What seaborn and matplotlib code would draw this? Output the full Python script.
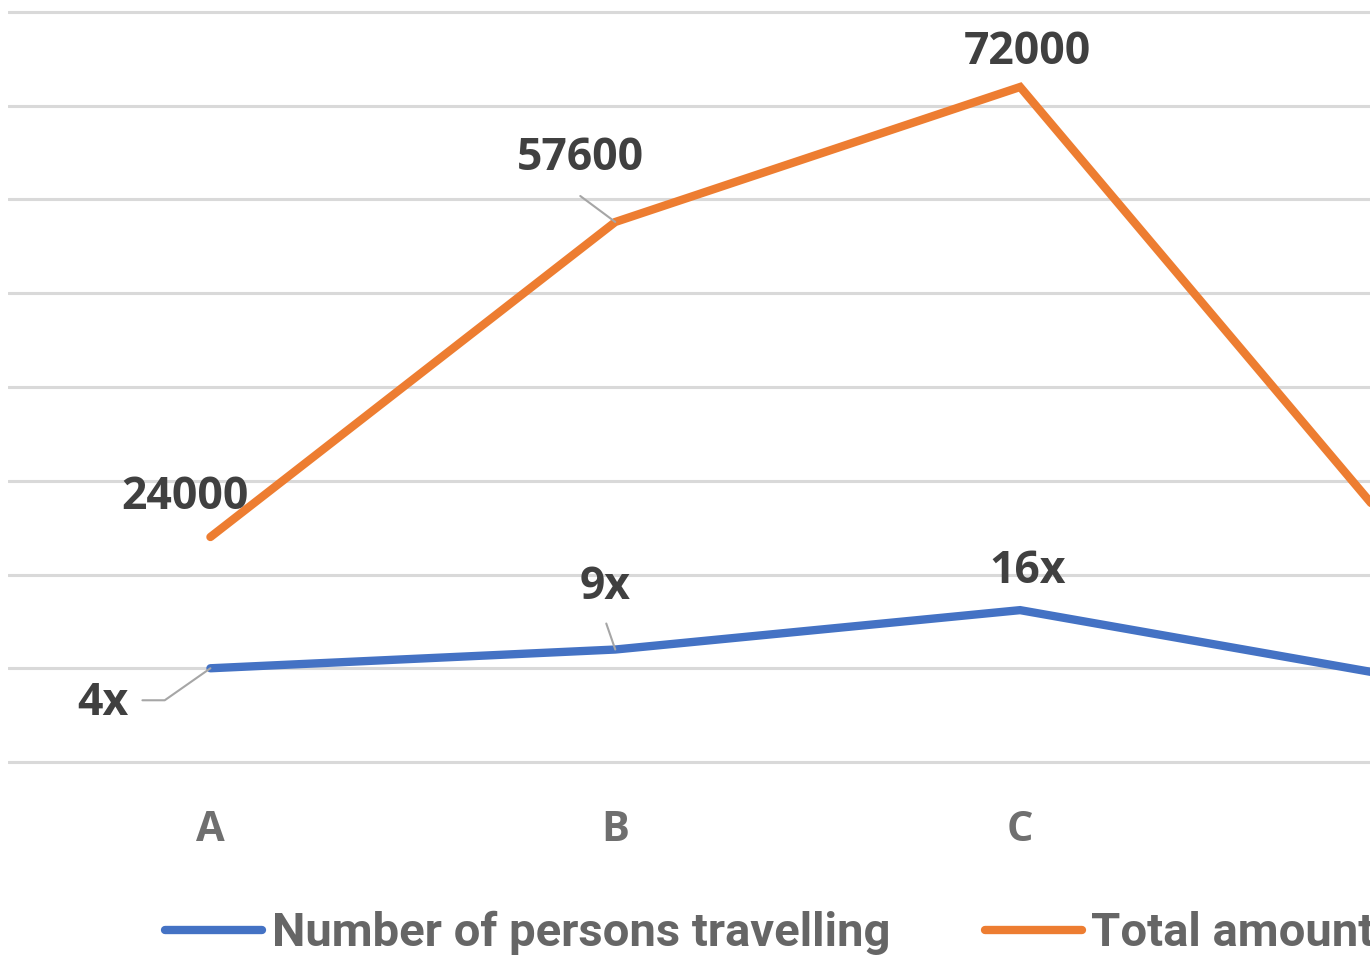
import numpy as np
import pandas as pd
import matplotlib
matplotlib.use("Agg")
import matplotlib.pyplot as plt
import seaborn as sns

# values (D is cut off at the right edge)
categories = ["A", "B", "C", "D"]
persons = [10000, 12000, 16200, 8600]        # plotted height of the blue line
persons_labels = ["4x", "9x", "16x", ""]
amount = [24000, 57600, 72000, 20800]
amount_labels = ["24000", "57600", "72000", ""]

sns.set_theme(style="white")
plt.rcParams["font.family"] = ["Open Sans", "DejaVu Sans"]

dat = pd.DataFrame({
    "cat": categories * 2,
    "pos": list(range(len(categories))) * 2,
    "value": persons + amount,
    "series": ["Number of persons travelling"] * 4 + ["Total amount"] * 4,
})

fig = plt.figure(figsize=(13.7, 9.58), dpi=100)
# axes runs past the right edge of the crop
ax = fig.add_axes([8 / 1370, (958 - 771.4) / 958, 1 - 8 / 1370, (771.4 - 2.6) / 958])

sns.lineplot(data=dat, x="pos", y="value", hue="series",
             palette=["#4472C4", "#ED7D31"], linewidth=6, ax=ax,
             solid_capstyle="round", solid_joinstyle="miter")

ax.set_xticks(range(len(categories)))
ax.set_xticklabels(categories, fontsize=30, fontweight="bold", color="#6f6f6f")
ax.set_xlim(-0.5, (1370 - 210) / 405)
ax.set_ylim(-1000, 81000)
ax.set_yticks(np.arange(0, 80001, 10000))
ax.set_yticklabels([])
ax.tick_params(axis="y", length=0)
ax.grid(axis="y", color="#d9d9d9", linewidth=2.2)
ax.set_axisbelow(True)
for s in ax.spines.values():
    s.set_visible(False)
ax.tick_params(axis="x", length=0, pad=28)
ax.set_xlabel("")
ax.set_ylabel("")

lab_kw = dict(textcoords="offset pixels", ha="center", va="center",
              fontsize=32, fontweight="bold", color="#404040")
lead = dict(arrowstyle="-", color="#a6a6a6", lw=1.5, shrinkA=0, shrinkB=0)

# total amount labels
amount_off = [(-25, 40), (-35, 63), (7, 34)]
for i, (dx, dy) in enumerate(amount_off):
    ax.annotate(amount_labels[i], (i, amount[i]), xytext=(dx, dy), **lab_kw)
ax.annotate("", (1, amount[1]), xytext=(-35, 26), textcoords="offset pixels",
            arrowprops=lead)

# persons labels
persons_off = [(-108, -35), (-10, 62), (7, 39)]
for i, (dx, dy) in enumerate(persons_off):
    ax.annotate(persons_labels[i], (i, persons[i]), xytext=(dx, dy), **lab_kw)
ax.annotate("", (0, persons[0]), xytext=(-68, -32), textcoords="offset pixels",
            arrowprops=dict(lead, connectionstyle="angle,angleA=0,angleB=35,rad=0"))
ax.annotate("", (1, persons[1]), xytext=(-9, 26), textcoords="offset pixels",
            arrowprops=lead)

leg = ax.legend(loc="center left", bbox_to_anchor=(165 / 1370, (958 - 933) / 958),
                bbox_transform=fig.transFigure, ncol=2, frameon=False,
                handlelength=2.06, handletextpad=0.2, columnspacing=2.0,
                borderpad=0, borderaxespad=0,
                prop=dict(family=["Roboto", "DejaVu Sans"],
                          weight="bold", size=34))
for t in leg.get_texts():
    t.set_color("#666666")
for h in leg.get_lines():
    h.set_linewidth(6)

fig.savefig("out.png", dpi=100)
